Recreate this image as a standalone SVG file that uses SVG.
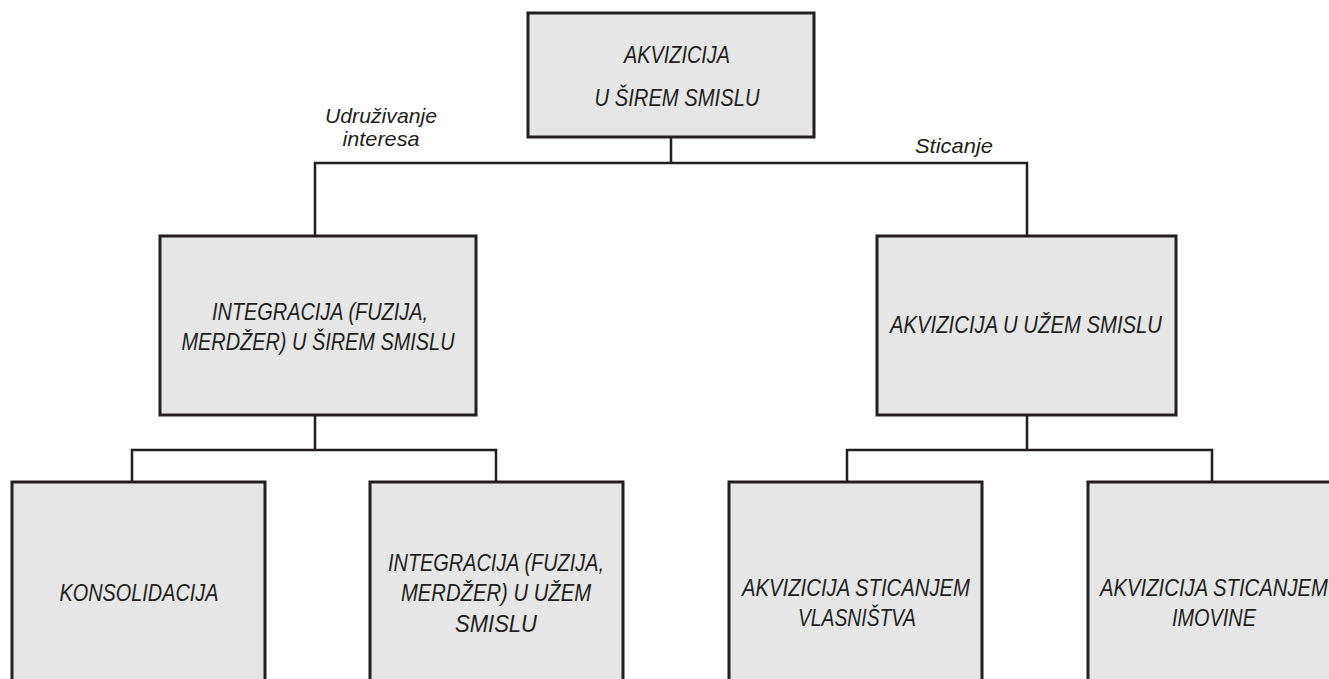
<svg xmlns="http://www.w3.org/2000/svg" width="1329" height="679" viewBox="0 0 1329 679">
<style>
.box{fill:#e6e6e7;stroke:#231f20;stroke-width:3}
.con{fill:none;stroke:#231f20;stroke-width:2.5}
text{font-family:"Liberation Sans Narrow","Liberation Sans",sans-serif;font-style:italic;fill:#231f20;text-anchor:middle}
.t{font-size:24px}
.l{font-size:21px}
</style>
<rect width="1329" height="679" fill="#ffffff"/>
<g id="connectors">
<path class="con" d="M671,137 V163 M315,236 V163 H1027 V236"/>
<path class="con" d="M315,415 V450 M132,482 V450 H496 V482"/>
<path class="con" d="M1027,415 V450 M847,482 V450 H1212 V482"/>
</g>
<g id="label-udruzivanje">
<text class="l" x="381" y="123" textLength="112" lengthAdjust="spacingAndGlyphs">Udruživanje</text>
<text class="l" x="381" y="146" textLength="77" lengthAdjust="spacingAndGlyphs">interesa</text>
</g>
<g id="label-sticanje">
<text class="l" x="954" y="153" textLength="78" lengthAdjust="spacingAndGlyphs">Sticanje</text>
</g>
<g id="n-top">
<rect class="box" x="528" y="13" width="286" height="124"/>
<text class="t" x="677" y="63" textLength="106" lengthAdjust="spacingAndGlyphs">AKVIZICIJA</text>
<text class="t" x="677" y="106" textLength="165" lengthAdjust="spacingAndGlyphs">U ŠIREM SMISLU</text>
</g>
<g id="n-int-wide">
<rect class="box" x="160" y="236" width="316" height="179"/>
<text class="t" x="320" y="320" textLength="216" lengthAdjust="spacingAndGlyphs">INTEGRACIJA (FUZIJA,</text>
<text class="t" x="318" y="350" textLength="273" lengthAdjust="spacingAndGlyphs">MERDŽER) U ŠIREM SMISLU</text>
</g>
<g id="n-akv-narrow">
<rect class="box" x="877" y="236" width="299" height="179"/>
<text class="t" x="1026" y="333" textLength="272" lengthAdjust="spacingAndGlyphs">AKVIZICIJA U UŽEM SMISLU</text>
</g>
<g id="n-kons">
<rect class="box" x="12" y="482" width="253" height="210"/>
<text class="t" x="139" y="601" textLength="159" lengthAdjust="spacingAndGlyphs">KONSOLIDACIJA</text>
</g>
<g id="n-int-narrow">
<rect class="box" x="370" y="482" width="253" height="210"/>
<text class="t" x="496" y="571" textLength="216" lengthAdjust="spacingAndGlyphs">INTEGRACIJA (FUZIJA,</text>
<text class="t" x="496" y="601" textLength="190" lengthAdjust="spacingAndGlyphs">MERDŽER) U UŽEM</text>
<text class="t" x="496" y="632" textLength="82" lengthAdjust="spacingAndGlyphs">SMISLU</text>
</g>
<g id="n-vlas">
<rect class="box" x="729" y="482" width="253" height="210"/>
<text class="t" x="856" y="596" textLength="228" lengthAdjust="spacingAndGlyphs">AKVIZICIJA STICANJEM</text>
<text class="t" x="857" y="626" textLength="118" lengthAdjust="spacingAndGlyphs">VLASNIŠTVA</text>
</g>
<g id="n-imov">
<rect class="box" x="1088" y="482" width="253" height="210"/>
<text class="t" x="1214" y="596" textLength="228" lengthAdjust="spacingAndGlyphs">AKVIZICIJA STICANJEM</text>
<text class="t" x="1214" y="626" textLength="84" lengthAdjust="spacingAndGlyphs">IMOVINE</text>
</g>
</svg>
